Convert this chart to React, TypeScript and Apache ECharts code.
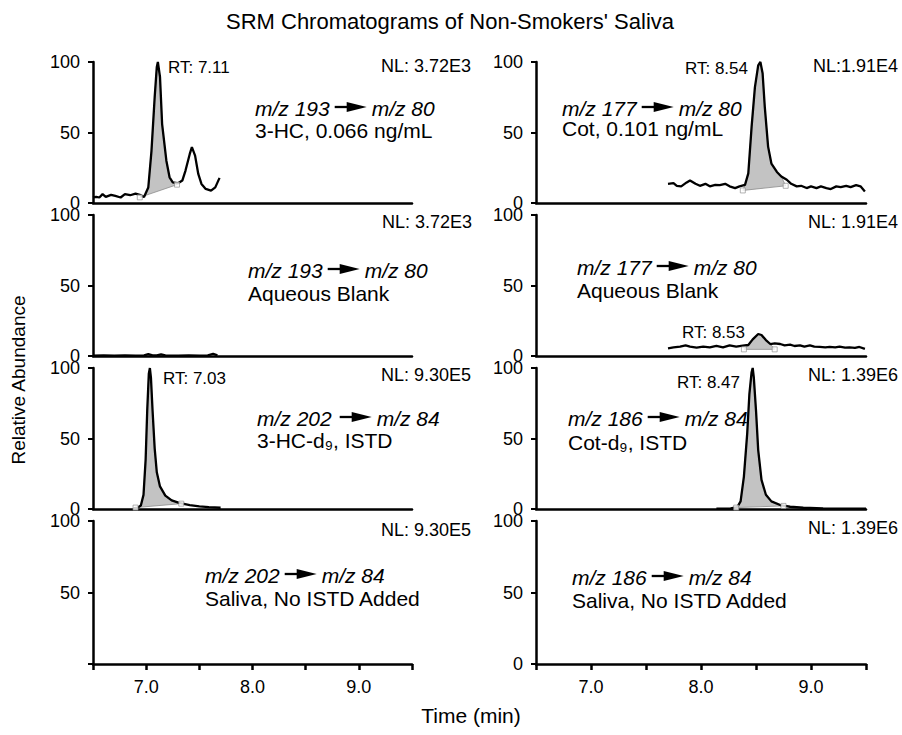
import React, { useEffect, useRef } from 'react';
import * as echarts from 'echarts';

const FONT = '"Liberation Sans", Arial, Helvetica, sans-serif';

// ---------- data (time in min, relative abundance in %) ----------
const timeRange = [6.5, 9.5];
const yRange = [0, 100];

// Row 1 left: m/z 193 -> 80, 3-HC saliva
const hc3Trace = [[6.50,4.0],[6.53,4.4],[6.56,3.9],[6.59,6.3],[6.62,4.3],[6.67,5.8],[6.71,5.0],[6.76,3.9],[6.80,6.3],[6.85,5.5],[6.90,6.6],[6.94,5.8],[6.98,4.3],[7.02,11.0],[7.05,37.0],[7.08,75.0],[7.10,96.5],[7.11,100],[7.13,89.5],[7.15,56.0],[7.19,30.0],[7.22,18.2],[7.25,14.7],[7.30,14.0],[7.34,15.9],[7.37,23.0],[7.41,34.8],[7.43,39.6],[7.46,33.6],[7.49,20.6],[7.52,13.5],[7.56,10.0],[7.61,8.8],[7.65,11.1],[7.69,17.8]];
const hc3Base = [[6.94,4.0],[7.29,13.0]];

// Row 1 right: m/z 177 -> 80, Cot saliva
const cotTrace = [[7.70,13.6],[7.75,14.1],[7.78,12.2],[7.82,11.8],[7.87,14.6],[7.90,16.0],[7.95,13.6],[7.99,12.2],[8.04,13.6],[8.08,11.8],[8.13,12.9],[8.17,12.7],[8.22,13.6],[8.26,11.8],[8.31,10.6],[8.35,11.8],[8.40,12.9],[8.43,21.0],[8.46,54.0],[8.49,82.0],[8.52,97.6],[8.54,100],[8.56,92.0],[8.58,68.0],[8.61,40.0],[8.64,28.0],[8.69,22.0],[8.73,18.8],[8.78,16.5],[8.82,13.6],[8.87,11.8],[8.91,12.2],[8.96,10.6],[9.00,11.8],[9.05,10.6],[9.09,11.8],[9.14,10.6],[9.18,9.9],[9.23,11.8],[9.27,11.3],[9.32,12.2],[9.36,11.3],[9.41,12.7],[9.45,11.8],[9.49,8.2]];
const cotBase = [[8.38,8.9],[8.77,12.2]];

// Row 2 left: aqueous blank, 3-HC
const blankHcTrace = [[6.50,0.3],[6.60,0.4],[6.70,0.3],[6.80,0.4],[6.90,0.3],[6.98,0.5],[7.02,1.3],[7.06,0.4],[7.10,0.5],[7.14,1.2],[7.18,0.4],[7.30,0.3],[7.40,0.4],[7.50,0.3],[7.58,0.4],[7.63,1.6],[7.67,0.5]];

// Row 2 right: aqueous blank, Cot
const blankCotTrace = [[7.70,5.4],[7.75,6.1],[7.81,6.6],[7.86,7.6],[7.90,6.6],[7.96,5.9],[8.02,6.6],[8.08,6.1],[8.14,7.1],[8.20,6.1],[8.26,7.6],[8.32,6.6],[8.38,7.3],[8.43,7.8],[8.47,11.8],[8.52,15.6],[8.55,14.9],[8.59,11.3],[8.63,8.5],[8.67,9.0],[8.72,8.5],[8.76,7.6],[8.81,8.0],[8.85,7.1],[8.90,7.6],[8.94,6.6],[8.99,7.6],[9.03,6.6],[9.08,6.4],[9.13,6.1],[9.17,6.4],[9.22,6.1],[9.26,6.6],[9.31,5.9],[9.35,6.1],[9.40,5.7],[9.44,6.4],[9.49,5.0]];
const blankCotBase = [[8.39,4.7],[8.67,4.7]];

// Row 3 left: m/z 202 -> 84, 3-HC-d9 ISTD
const hcd9Trace = [[6.88,0.5],[6.92,1.0],[6.95,2.5],[6.975,10.0],[6.995,35.0],[7.01,70.0],[7.025,96.0],[7.035,100],[7.045,93.0],[7.06,70.0],[7.08,43.0],[7.10,26.0],[7.13,16.0],[7.18,9.5],[7.24,6.1],[7.31,4.3],[7.41,2.8],[7.50,1.9],[7.59,1.4],[7.70,0.9]];
const hcd9Base = [[6.90,1.0],[7.33,3.8]];

// Row 3 right: m/z 186 -> 84, Cot-d9 ISTD
const cotd9Trace = [[8.14,0.2],[8.27,0.4],[8.33,1.4],[8.36,5.4],[8.39,23.0],[8.42,53.5],[8.44,81.7],[8.46,97.0],[8.47,100],[8.48,93.4],[8.50,70.0],[8.52,41.8],[8.55,20.7],[8.59,10.1],[8.64,5.4],[8.72,2.8],[8.81,1.6],[8.93,0.9],[9.11,0.5],[9.50,0.2]];
const cotd9Base = [[8.32,1.0],[8.75,2.2]];

// texts
const titleText = "SRM Chromatograms of Non-Smokers' Saliva";
const yName = 'Relative Abundance';
const xName = 'Time (min)';
const nlLabels = ['NL: 3.72E3', 'NL:1.91E4', 'NL: 3.72E3', 'NL: 1.91E4', 'NL: 9.30E5', 'NL: 1.39E6', 'NL: 9.30E5', 'NL: 1.39E6'];
const precursors = ['m/z 193', 'm/z 177', 'm/z 193', 'm/z 177', 'm/z 202', 'm/z 186', 'm/z 202', 'm/z 186'];
const products = ['m/z 80', 'm/z 80', 'm/z 80', 'm/z 80', 'm/z 84', 'm/z 84', 'm/z 84', 'm/z 84'];
const sampleLabels = ['3-HC, 0.066 ng/mL', 'Cot, 0.101 ng/mL', 'Aqueous Blank', 'Aqueous Blank', '3-HC-d\u2089, ISTD', 'Cot-d\u2089, ISTD', 'Saliva, No ISTD Added', 'Saliva, No ISTD Added'];
const rtLabels = ['RT: 7.11', 'RT: 8.54', '', 'RT: 8.53', 'RT: 7.03', 'RT: 8.47', '', ''];

// ---------- layout ----------
const gridLeft = [93, 536];
const gridWidth = [319, 330];
const gridTop = [62, 215, 368, 521];
const gridHeight = [141, 141, 141, 143];

const traces: (number[][] | null)[] = [hc3Trace, cotTrace, blankHcTrace, blankCotTrace, hcd9Trace, cotd9Trace, null, null];
const bases: (number[][] | null)[] = [hc3Base, cotBase, null, blankCotBase, hcd9Base, cotd9Base, null, null];

// NL labels right-aligned
const nlPos = [[471, 66], [898, 66], [472, 222], [898, 222], [471, 375], [898, 375], [471, 530], [898, 528]];
const annPos = [[255, 108, 130], [562, 108, 128], [248, 270, 293], [577, 267, 290], [257, 418, 440], [568, 418, 442], [205, 575, 598], [572, 577, 600]];
const arrowGapBefore = [5, 5, 5, 5, 8, 5, 5, 5];
// [x, y, align]
const rtPos: [number, number, string][] = [[168, 67, 'left'], [748, 68, 'right'], [0, 0, 'left'], [745, 332, 'right'], [163, 378, 'left'], [740, 382, 'right'], [0, 0, 'left'], [0, 0, 'left']];

function textEl(x: number, y: number, text: string, font: string, align = 'left', extra: any = {}) {
  return {
    type: 'text', x, y, silent: true, ...extra,
    style: { text, font, fill: '#000', align, verticalAlign: 'middle', textAlign: align, textVerticalAlign: 'middle' },
  };
}

export default function App() {
  const ref = useRef<HTMLDivElement>(null);
  useEffect(() => {
    const chart = echarts.init(ref.current!, null, { renderer: 'svg' });
    const ctx = document.createElement('canvas').getContext('2d')!;
    const italicFont = `italic 21px ${FONT}`;
    ctx.font = italicFont;

    const grids: any[] = [];
    const xAxes: any[] = [];
    const yAxes: any[] = [];
    const series: any[] = [];
    const graphics: any[] = [];

    for (let i = 0; i < 8; i++) {
      const row = Math.floor(i / 2);
      const col = i % 2;
      const bottom = row === 3;
      grids.push({ left: gridLeft[col], width: gridWidth[col], top: gridTop[row], height: gridHeight[row], containLabel: false });
      xAxes.push({
        type: 'value', gridIndex: i, min: timeRange[0], max: timeRange[1], interval: 0.5,
        axisLine: { show: true, onZero: false, lineStyle: { color: '#000', width: 2.5 } },
        axisTick: { show: bottom, length: 6, lineStyle: { color: '#000', width: 2.5 } },
        axisLabel: {
          show: bottom, margin: 14, fontSize: 18, fontFamily: FONT, color: '#000',
          formatter: (v: number) => (Math.abs(v - Math.round(v)) < 1e-6 ? v.toFixed(1) : ''),
        },
        splitLine: { show: false },
      });
      yAxes.push({
        type: 'value', gridIndex: i, min: yRange[0], max: yRange[1], interval: 50,
        axisLine: { show: true, lineStyle: { color: '#000', width: 2.5 } },
        axisTick: { show: true, length: 5, lineStyle: { color: '#000', width: 2 } },
        axisLabel: {
          margin: 13, fontSize: 18, lineHeight: 12, fontFamily: FONT, color: '#000',
          formatter: (v: number) => (i === 6 && v === 0 ? '' : String(v)),
        },
        splitLine: { show: false },
      });

      const tr = traces[i];
      const bs = bases[i];
      if (tr && bs) {
        const poly = [bs[0], ...tr.filter((p) => p[0] > bs[0][0] && p[0] < bs[1][0]), bs[1]];
        series.push({
          type: 'custom', xAxisIndex: i, yAxisIndex: i, z: 2, silent: true,
          data: poly,
          renderItem: (params: any, api: any) => {
            if (params.dataIndex !== 0) return null;
            const pts = poly.map((p) => api.coord(p));
            return { type: 'polygon', shape: { points: pts }, style: { fill: '#c3c3c3', stroke: '#8c8c8c', lineWidth: 0.8 } };
          },
        });
      }
      if (tr) {
        series.push({
          type: 'line', xAxisIndex: i, yAxisIndex: i, z: 3, data: tr, showSymbol: false, symbol: 'none',
          lineStyle: { color: '#000', width: 2.3 }, silent: true,
        });
      }
      if (bs) {
        series.push({
          type: 'scatter', xAxisIndex: i, yAxisIndex: i, z: 4, data: bs, symbol: 'rect', symbolSize: 5,
          itemStyle: { color: '#fff', borderColor: '#888', borderWidth: 0.8 }, silent: true,
        });
      }

      // NL label
      graphics.push(textEl(nlPos[i][0], nlPos[i][1], nlLabels[i], `18px ${FONT}`, 'right'));
      // RT label
      if (rtLabels[i]) graphics.push(textEl(rtPos[i][0], rtPos[i][1], rtLabels[i], `17px ${FONT}`, rtPos[i][2]));
      // transition annotation with arrow
      const [ax, ay1, ay2] = annPos[i];
      const w1 = ctx.measureText(precursors[i]).width;
      const sx = ax + w1 + arrowGapBefore[i];
      graphics.push(textEl(ax, ay1, precursors[i], italicFont));
      graphics.push({ type: 'line', silent: true, shape: { x1: sx, y1: ay1 - 1, x2: sx + 16, y2: ay1 - 1 }, style: { stroke: '#000', lineWidth: 2.3 } });
      graphics.push({ type: 'polygon', silent: true, shape: { points: [[sx + 12, ay1 - 6], [sx + 32, ay1 - 1], [sx + 12, ay1 + 4]] }, style: { fill: '#000' } });
      graphics.push(textEl(sx + 37, ay1, products[i], italicFont));
      graphics.push(textEl(ax, ay2, sampleLabels[i], `21px ${FONT}`));
    }

    graphics.push(textEl(450, 21, titleText, `22px ${FONT}`, 'center'));
    graphics.push(textEl(18, 380, yName, `19px ${FONT}`, 'center', { rotation: Math.PI / 2 }));
    graphics.push(textEl(471, 715, xName, `21px ${FONT}`, 'center'));

    chart.setOption({
      animation: false,
      backgroundColor: '#fff',
      grid: grids,
      xAxis: xAxes,
      yAxis: yAxes,
      series,
      graphic: { elements: graphics },
    });
    return () => chart.dispose();
  }, []);
  return <div ref={ref} style={{ position: 'absolute', left: 0, top: 0, width: 902, height: 735 }} />;
}
